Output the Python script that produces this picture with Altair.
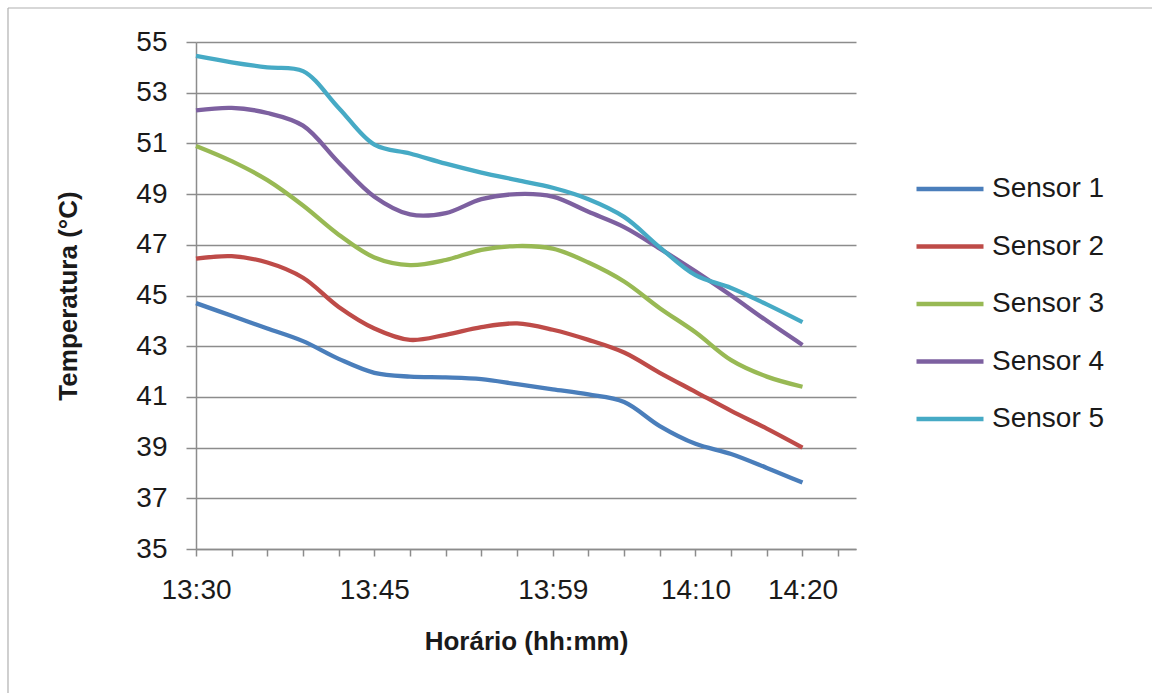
import altair as alt
import pandas as pd

# ---- data ----
series_names = ["Sensor 1", "Sensor 2", "Sensor 3", "Sensor 4", "Sensor 5"]
sample_index = list(range(18))  # readings on the category axis
tick_positions = list(range(19))
label_positions = [0, 5, 10, 14, 17]
label_texts = ["13:30", "13:45", "13:59", "14:10", "14:20"]
y_ticks = list(range(35, 56, 2))

sensor1 = [44.7, 44.2, 43.7, 43.2, 42.5, 41.95, 41.8, 41.77, 41.7, 41.5, 41.3, 41.1, 40.8, 39.85, 39.15, 38.75, 38.2, 37.62]
sensor2 = [46.45, 46.55, 46.3, 45.7, 44.55, 43.7, 43.25, 43.45, 43.75, 43.9, 43.65, 43.25, 42.75, 41.95, 41.2, 40.45, 39.75, 39.0]
sensor3 = [50.9, 50.3, 49.55, 48.55, 47.4, 46.5, 46.2, 46.4, 46.8, 46.95, 46.85, 46.3, 45.55, 44.5, 43.55, 42.45, 41.8, 41.4]
sensor4 = [52.3, 52.4, 52.2, 51.7, 50.25, 48.9, 48.2, 48.25, 48.8, 49.0, 48.9, 48.3, 47.7, 46.85, 45.95, 45.0, 44.0, 43.05]
sensor5 = [54.45, 54.2, 54.0, 53.85, 52.4, 50.95, 50.6, 50.2, 49.85, 49.55, 49.25, 48.8, 48.1, 46.9, 45.8, 45.3, 44.65, 43.95]

colors = ["#4A7EBB", "#BE4B48", "#98B954", "#7D60A0", "#46AAC5"]

rows = []
for name, vals in zip(series_names, [sensor1, sensor2, sensor3, sensor4, sensor5]):
    for i, v in zip(sample_index, vals):
        rows.append({"idx": i, "sensor": name, "temp": v})
df = pd.DataFrame(rows)

label_expr = " : ".join(
    f"datum.value == {p} ? '{t}'" for p, t in zip(label_positions, label_texts)
) + " : ''"

FONT = "Liberation Sans"
GRID = "#8c8c8c"
TEXT = "#1a1a1a"

lines = alt.Chart(df).mark_line(interpolate="catmull-rom", strokeWidth=4.3).encode(
    x=alt.X(
        "idx:Q",
        scale=alt.Scale(domain=[0, 18.5], nice=False, zero=False),
        axis=alt.Axis(
            values=tick_positions,
            labelExpr=label_expr,
            title="Horário (hh:mm)",
            grid=False,
            tickSize=7,
            labelPadding=42,
            labelBaseline="alphabetic",
            labelOverlap=False,
            labelFlush=False,
            titleX=330,
            titleY=100,
            titleBaseline="alphabetic",
            titleAlign="center",
        ),
    ),
    y=alt.Y(
        "temp:Q",
        scale=alt.Scale(domain=[35, 55], nice=False, zero=False),
        axis=alt.Axis(
            values=y_ticks,
            title="Temperatura (°C)",
            grid=True,
            tickSize=10,
            labelPadding=19,
            titleX=-128,
            titleY=253.5,
            titleAngle=-90,
            titleBaseline="middle",
            titleAlign="center",
        ),
    ),
    color=alt.Color(
        "sensor:N",
        scale=alt.Scale(domain=series_names, range=colors),
        legend=alt.Legend(
            title=None,
            orient="none",
            legendX=718,
            legendY=111,
            symbolType="stroke",
            symbolSize=4489,
            symbolStrokeWidth=4.5,
            labelFontSize=28,
            labelFont=FONT,
            labelColor=TEXT,
            labelOffset=6,
            rowPadding=7.5,
        ),
    ),
)

frame = alt.Chart(pd.DataFrame({"a": [0]})).mark_rule(color="#b0b0b0", strokeWidth=1.2)
frame_left = frame.encode(x=alt.value(-188), y=alt.value(-34), y2=alt.value(660))
frame_top = frame.encode(x=alt.value(-188), x2=alt.value(960), y=alt.value(-34))

chart = (
    alt.layer(frame_left, frame_top, lines)
    .properties(
        width=660,
        height=507,
        autosize="none",
        padding={"left": 196, "top": 42, "right": 296, "bottom": 144},
        background="white",
    )
    .configure_view(stroke=None)
    .configure_axis(
        domainColor=GRID,
        domainWidth=1.5,
        tickColor=GRID,
        tickWidth=1.5,
        gridColor=GRID,
        gridWidth=1.3,
        labelFont=FONT,
        labelFontSize=28,
        labelColor=TEXT,
        titleFont=FONT,
        titleFontSize=26,
        titleFontWeight="bold",
        titleColor=TEXT,
    )
)

chart.save("out.html", embed_options={"renderer": "svg", "actions": False})
